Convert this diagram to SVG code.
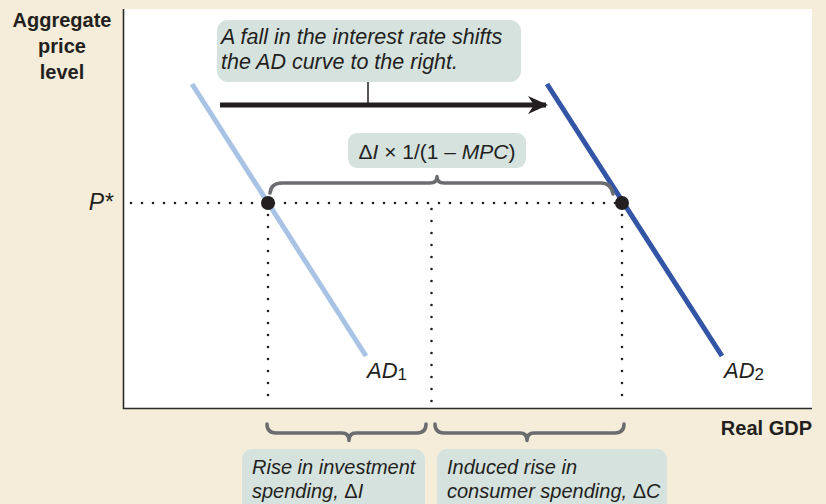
<svg xmlns="http://www.w3.org/2000/svg" width="826" height="504" viewBox="0 0 826 504">
<style>
  .lbl { font-family: "Liberation Sans", Arial, sans-serif; fill: #231f20; }
  .bold { font-weight: bold; }
  .it { font-style: italic; }
  .box { fill: #d5e2de; }
  .brace { fill: none; stroke: #6b6c6f; stroke-width: 3.5; stroke-linecap: round; stroke-linejoin: round; }
  .dotsH { stroke: #231f20; stroke-width: 2.6; stroke-linecap: round; stroke-dasharray: 0 11; }
  .dotsV { stroke: #231f20; stroke-width: 2.6; stroke-linecap: round; stroke-dasharray: 0 12; }
  .axis { stroke: #2b2b2b; stroke-width: 1.6; fill: none; }
</style>
<defs>
  <marker id="arr" viewBox="0 0 10 10" refX="9" refY="5" markerWidth="4" markerHeight="4" orient="auto" markerUnits="strokeWidth">
    <path d="M0,0.5 L10,5 L0,9.5 L3,5 Z" fill="#231f20"/>
  </marker>
</defs>
<rect x="0" y="0" width="826" height="504" fill="#f5ecd9"/>
<rect x="124" y="9" width="688" height="399" fill="#ffffff"/>

<g id="axes">
  <path class="axis" d="M123.5,9 V408.5 H812"/>
  <text class="lbl bold" x="62" y="27" font-size="20" text-anchor="middle">Aggregate</text>
  <text class="lbl bold" x="62" y="53" font-size="20" text-anchor="middle">price</text>
  <text class="lbl bold" x="62" y="79" font-size="20" text-anchor="middle">level</text>
  <text class="lbl bold" x="812" y="435" font-size="20" text-anchor="end">Real GDP</text>
  <text class="lbl it" x="113" y="210" font-size="23" text-anchor="end">P*</text>
</g>

<g id="guides">
  <line class="dotsH" x1="131" y1="203" x2="622" y2="203"/>
  <line class="dotsV" x1="268" y1="215" x2="268" y2="405"/>
  <line class="dotsV" x1="431.5" y1="209" x2="431.5" y2="405"/>
  <line class="dotsV" x1="622" y1="215" x2="622" y2="405"/>
</g>

<g id="AD1">
  <line x1="192" y1="84" x2="366" y2="356" stroke="#a9c3e5" stroke-width="5"/>
  <text class="lbl it" x="367" y="378" font-size="22">AD<tspan font-style="normal" font-size="17" dy="2">1</tspan></text>
</g>
<g id="AD2">
  <line x1="547" y1="84" x2="722" y2="356" stroke="#3355a6" stroke-width="5"/>
  <text class="lbl it" x="724" y="378" font-size="22">AD<tspan font-style="normal" font-size="17" dy="2">2</tspan></text>
</g>

<g id="points">
  <circle cx="268" cy="203" r="7" fill="#231f20"/>
  <circle cx="622" cy="203" r="7" fill="#231f20"/>
</g>

<g id="connectors">
  <line x1="220" y1="105" x2="546" y2="105" stroke="#231f20" stroke-width="5" marker-end="url(#arr)"/>
  <line x1="368" y1="82" x2="368" y2="105" stroke="#231f20" stroke-width="1.5"/>
  <path class="brace" d="M270,193 Q271,183 282,183 L430,183 Q437,183 437,176.5 Q437,183 444,183 L601,183 Q611,183 613,194"/>
  <path class="brace" d="M267,424 Q267,433 276,433 L342,433 Q349,433 349,440.5 Q349,433 356,433 L417,433 Q426,433 426,424"/>
  <path class="brace" d="M435,424 Q435,433 444,433 L520,433 Q527,433 527,440.5 Q527,433 534,433 L615,433 Q624,433 624,424"/>
</g>

<g id="callout-shift">
  <rect class="box" x="217" y="20" width="304" height="62" rx="11"/>
  <text class="lbl it" x="221" y="44" font-size="21.5">A fall in the interest rate shifts</text>
  <text class="lbl it" x="221" y="69" font-size="21.5">the AD curve to the right.</text>
</g>

<g id="callout-multiplier">
  <rect class="box" x="348" y="133" width="178" height="35" rx="9"/>
  <text class="lbl" x="437" y="159" font-size="21" text-anchor="middle">Δ<tspan font-style="italic">I</tspan> × 1/(1 – <tspan font-style="italic">MPC</tspan>)</text>
</g>

<g id="callout-investment">
  <rect class="box" x="242" y="449" width="183" height="70" rx="10"/>
  <text class="lbl it" x="252" y="474" font-size="20">Rise in investment</text>
  <text class="lbl it" x="252" y="498" font-size="20">spending, <tspan font-style="normal">Δ</tspan>I</text>
</g>

<g id="callout-consumer">
  <rect class="box" x="437" y="449" width="230" height="70" rx="10"/>
  <text class="lbl it" x="447" y="474" font-size="20">Induced rise in</text>
  <text class="lbl it" x="447" y="498" font-size="20">consumer spending, <tspan font-style="normal">Δ</tspan>C</text>
</g>
</svg>
